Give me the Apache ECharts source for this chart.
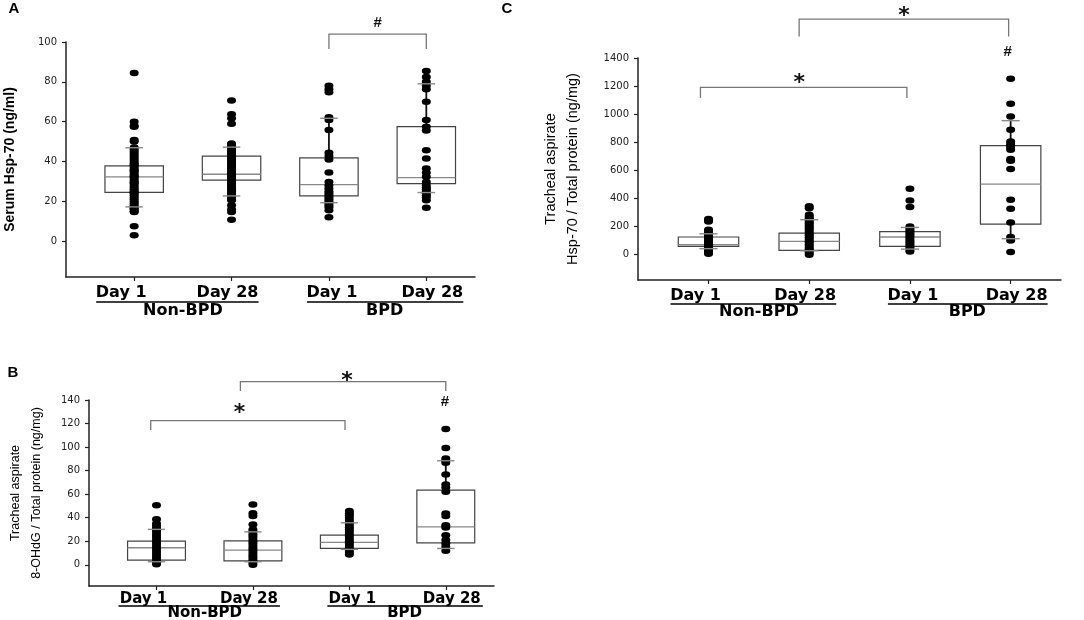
<!DOCTYPE html>
<html>
<head>
<meta charset="utf-8">
<script src="https://cdn.jsdelivr.net/npm/echarts@6/dist/echarts.min.js"></script>
<style>
  html, body { margin: 0; padding: 0; background: #fff; }
  #chart { width: 1084px; height: 620px; }
</style>
</head>
<body>
<div id="chart"></div>
<script>
// categories
const groupX = [1, 2, 3, 4];
const dayLabels = ['Day 1', 'Day 28', 'Day 1', 'Day 28'];
const groupLabels = ['Non-BPD', 'BPD'];

// A - serum Hsp-70 (ng/ml)
const aTicks = [0, 20, 40, 60, 80, 100];
const aNon1 = [84.4, 60, 58, 57.5, 50.8, 50, 47, 46, 45, 44, 43, 42, 41, 40, 39, 38.5, 38, 37, 36, 35.5, 35, 34, 33, 32.5, 32, 31, 30, 29.5, 29, 28, 27, 26, 25, 24.5, 24, 23, 22, 21, 20, 19, 18, 17, 16.5, 16, 15, 14.6, 7.5, 3];
const aNon28 = [70.6, 63.7, 61.7, 59, 49, 48, 47, 46, 45, 44, 43, 42, 41, 40, 39, 38, 37, 36, 35, 34, 33.5, 33, 32, 31, 30, 29, 28, 27, 26, 25, 24, 23, 22, 21, 20.5, 18, 16, 14.6, 10.8];
const aBpd1 = [78, 76.3, 74.8, 62.2, 60.8, 55.8, 44.4, 42.7, 41, 34.5, 29.7, 28, 26.4, 25, 24, 23, 22, 21, 20, 19, 18, 17, 15.5, 12];
const aBpd28 = [85.5, 82.4, 80, 78, 76.3, 70, 60.8, 57.5, 55.5, 45.7, 41.5, 36.5, 34.3, 32.3, 29.7, 28, 27, 26, 25, 24, 23, 22, 20.5, 16.8];
// [lower cap, Q1, median, Q3, upper cap]
const aBox = [[17.2, 24.5, 32.3, 37.8, 46.9], [22.7, 30.6, 33.6, 42.7, 47.2], [19.3, 22.7, 28.4, 41.8, 61.7], [24.4, 28.9, 31.9, 57.5, 79]];
// [x from, x to, top, drop]
const aBrackets = [[3, 4, 104, 96.5]];
const aMarks = [[3.5, 109.5, '#']];

// B - tracheal aspirate 8-OHdG / total protein (ng/mg)
const bTicks = [0, 20, 40, 60, 80, 100, 120, 140];
const bNon1 = [50.7, 38.6, 35, 33, 31, 29.5, 28, 26, 24, 22, 20, 18, 16, 14, 12, 10, 8, 6, 4, 2, 0.5];
const bNon28 = [51.3, 43.7, 41.4, 34.3, 30, 28, 26, 24, 22, 20, 18, 16, 14, 12, 10, 8, 6, 4, 2, 0];
const bBpd1 = [45.7, 43.7, 42, 40, 38, 36, 34, 32, 30, 28, 26, 24, 22, 20, 18, 16, 14, 12, 10, 8.8];
const bBpd28 = [115.3, 99.2, 90.4, 88.4, 86.7, 76.8, 68.3, 65.7, 62.1, 43.6, 41.4, 33.7, 31.7, 25.2, 21, 18.1, 15.3, 11.9];
const bBox = [[2.6, 4, 14.5, 20.2, 30.1], [2.6, 3.4, 12.5, 20.4, 28], [13.1, 13.9, 19, 25.3, 35.7], [13.9, 18.7, 32.3, 63.5, 88.4]];
const bBrackets = [[0.94, 2.955, 122.4, 114.5], [1.87, 4.0, 155.6, 147.7]];
const bMarks = [[1.86, 134, '*'], [2.975, 161.4, '*'], [3.99, 138.6, '#']];

// C - tracheal aspirate Hsp-70 / total protein (ng/mg)
const cTicks = [0, 200, 400, 600, 800, 1000, 1200, 1400];
const cNon1 = [254, 245, 237, 178, 170, 160, 150, 140, 130, 122, 115, 108, 100, 92, 85, 78, 70, 64, 57, 50, 44, 38, 30, 22, 12, 7];
const cNon28 = [344, 330, 285, 272, 260, 248, 236, 224, 212, 200, 188, 175, 162, 150, 138, 125, 112, 100, 88, 75, 62, 50, 38, 25, 12, 0];
const cBpd1 = [470, 386, 339, 201, 190, 178, 165, 152, 140, 128, 115, 100, 88, 75, 62, 50, 36, 23];
const cBpd28 = [1253, 1075, 984, 890, 806, 790, 775, 760, 747, 681, 669, 610, 391, 327, 230, 126, 102, 19];
const cBox = [[43, 59, 71, 126, 149], [28, 31, 95, 154, 249], [40, 59, 126, 164, 194], [114, 218, 503, 776, 954]];
const cBrackets = [[0.92, 2.97, 1191, 1115], [1.9, 3.98, 1677, 1553]];
const cMarks = [[1.9, 1260, '*'], [2.94, 1737, '*'], [3.97, 1445, '#']];

const BOX_W = 0.6;
const CAP_W = 0.18;
const TICK_FONT = 'DejaVu Sans';
const TEXT_FONT = 'Liberation Sans';

const panels = [
  {
    letter: 'A', letterPos: [14, 9],
    grid: { left: 62, top: 42, width: 413, height: 235 },
    yMin: -18, yMax: 100, ticks: aTicks,
    groups: [aNon1, aNon28, aBpd1, aBpd28], box: aBox, brackets: aBrackets, marks: aMarks,
    name: 'Serum Hsp-70 (ng/ml)', nameGap: 47, nameSize: 14, nameWeight: 'bold', nameLine: 18,
    dayFont: 16, labelMargin: 8, underline: 25, groupY: 34
  },
  {
    letter: 'B', letterPos: [13, 373],
    grid: { left: 89, top: 400, width: 405, height: 186 },
    yMin: -18, yMax: 140, ticks: bTicks,
    groups: [bNon1, bNon28, bBpd1, bBpd28], box: bBox, brackets: bBrackets, marks: bMarks,
    name: 'Tracheal aspirate\n8-OHdG / Total protein (ng/mg)', nameGap: 42, nameSize: 12.5, nameWeight: 'normal', nameLine: 21,
    dayFont: 15, labelMargin: 6, underline: 20, groupY: 27.5
  },
  {
    letter: 'C', letterPos: [507, 9],
    grid: { left: 638, top: 58, width: 423, height: 222 },
    yMin: -180, yMax: 1400, ticks: cTicks,
    groups: [cNon1, cNon28, cBpd1, cBpd28], box: cBox, brackets: cBrackets, marks: cMarks,
    name: 'Tracheal aspirate\nHsp-70 / Total protein (ng/mg)', nameGap: 54, nameSize: 14.5, nameWeight: 'normal', nameLine: 22,
    dayFont: 16, labelMargin: 8, underline: 24, groupY: 32
  }
];

// label shifts relative to tick (px), like the original layout
const dayPad = [[0, 26, 0, 0], [0, 8, 0, 0], [0, 0, 0, 6], [0, 0, 0, 12]];

function renderBox(params, api) {
  const x = api.value(0);
  const low = api.coord([x, api.value(1)]);
  const q1 = api.coord([x, api.value(2)]);
  const med = api.coord([x, api.value(3)]);
  const q3 = api.coord([x, api.value(4)]);
  const high = api.coord([x, api.value(5)]);
  const half = api.size([BOX_W, 0])[0] / 2;
  const whisker = { stroke: '#111', lineWidth: 1.8 };
  return {
    type: 'group',
    children: [
      { type: 'line', shape: { x1: low[0], y1: low[1], x2: q1[0], y2: q1[1] }, style: whisker },
      { type: 'line', shape: { x1: q3[0], y1: q3[1], x2: high[0], y2: high[1] }, style: whisker },
      { type: 'rect', shape: { x: q3[0] - half, y: q3[1], width: half * 2, height: q1[1] - q3[1] },
        style: { fill: '#fff', stroke: '#444', lineWidth: 1.2 } },
      { type: 'line', shape: { x1: med[0] - half, y1: med[1], x2: med[0] + half, y2: med[1] },
        style: { stroke: '#888', lineWidth: 1.3 } }
    ]
  };
}

function renderCaps(params, api) {
  const x = api.value(0);
  const low = api.coord([x, api.value(1)]);
  const high = api.coord([x, api.value(5)]);
  const half = api.size([CAP_W, 0])[0] / 2;
  const st = { stroke: '#8a8a8a', lineWidth: 1.4 };
  return {
    type: 'group',
    children: [
      { type: 'line', shape: { x1: low[0] - half, y1: low[1], x2: low[0] + half, y2: low[1] }, style: st },
      { type: 'line', shape: { x1: high[0] - half, y1: high[1], x2: high[0] + half, y2: high[1] }, style: st }
    ]
  };
}

function renderBracket(params, api) {
  const a = api.coord([api.value(0), api.value(2)]);
  const b = api.coord([api.value(1), api.value(2)]);
  const d = api.coord([api.value(0), api.value(3)]);
  return {
    type: 'polyline',
    shape: { points: [[a[0], d[1]], a, b, [b[0], d[1]]] },
    style: { stroke: '#777', lineWidth: 1.3, fill: 'none' }
  };
}

function makeRenderMark(marks) {
  return function (params, api) {
    const p = api.coord([api.value(0), api.value(1)]);
    const txt = marks[params.dataIndex][2];
    const star = txt === '*';
    return {
      type: 'text',
      x: p[0], y: p[1] + (star ? 6 : 0),
      style: {
        text: txt, align: 'center', verticalAlign: 'middle',
        fontFamily: star ? TICK_FONT : TEXT_FONT,
        fontSize: star ? 22 : 15, fontWeight: 'bold', fill: '#111'
      }
    };
  };
}

const grids = [], xAxes = [], yAxes = [], series = [];
panels.forEach((p, i) => {
  grids.push(Object.assign({ containLabel: false }, p.grid));
  const rich = {};
  dayPad.forEach((pad, k) => {
    rich['d' + k] = { padding: pad, fontFamily: TICK_FONT, fontWeight: 'bold', fontSize: p.dayFont, color: '#000' };
  });
  xAxes.push({
    type: 'value', gridIndex: i, min: 0.3, max: 4.5,
    axisLine: { show: true, onZero: false, lineStyle: { color: '#222', width: 1.5 } },
    axisTick: { show: true, length: 4, customValues: groupX, lineStyle: { color: '#222', width: 1.2 } },
    axisLabel: {
      customValues: groupX, margin: p.labelMargin,
      formatter: v => '{d' + (v - 1) + '|' + dayLabels[v - 1] + '}', rich: rich
    },
    splitLine: { show: false }
  });
  yAxes.push({
    type: 'value', gridIndex: i, min: p.yMin, max: p.yMax,
    name: p.name, nameLocation: 'middle', nameGap: p.nameGap, nameRotate: 90,
    nameTextStyle: { fontFamily: TEXT_FONT, fontSize: p.nameSize, fontWeight: p.nameWeight, color: '#000', lineHeight: p.nameLine },
    axisLine: { show: true, onZero: false, lineStyle: { color: '#222', width: 1.5 } },
    axisTick: { show: true, length: 4, customValues: p.ticks, lineStyle: { color: '#222', width: 1.2 } },
    axisLabel: { customValues: p.ticks, margin: 9, fontFamily: TICK_FONT, fontSize: 10, color: '#222',
      formatter: v => String(v) },
    splitLine: { show: false }
  });
  const boxData = p.box.map((s, k) => [groupX[k]].concat(s));
  const pts = p.groups.flatMap((vals, k) => vals.map(v => [groupX[k], v]));
  series.push(
    { type: 'custom', xAxisIndex: i, yAxisIndex: i, renderItem: renderBox, data: boxData, encode: { x: 0, y: [1, 2, 3, 4, 5] }, z: 2 },
    { type: 'scatter', xAxisIndex: i, yAxisIndex: i, data: pts, symbol: 'circle', symbolSize: [9, 6.5],
      itemStyle: { color: '#000', opacity: 1 }, z: 3 },
    { type: 'custom', xAxisIndex: i, yAxisIndex: i, renderItem: renderCaps, data: boxData, encode: { x: 0, y: [1, 5] }, z: 4 },
    { type: 'custom', xAxisIndex: i, yAxisIndex: i, renderItem: renderBracket, data: p.brackets, clip: false, z: 4 },
    { type: 'custom', xAxisIndex: i, yAxisIndex: i, renderItem: makeRenderMark(p.marks), data: p.marks.map(m => [m[0], m[1]]), clip: false, z: 4 }
  );
});

const chart = echarts.init(document.getElementById('chart'), null, { renderer: 'canvas' });
chart.setOption({
  animation: false,
  backgroundColor: '#fff',
  grid: grids, xAxis: xAxes, yAxis: yAxes, series: series
});

// group labels, underlines and panel letters
const graphics = [];
panels.forEach((p, i) => {
  const px = v => chart.convertToPixel({ xAxisIndex: i }, v);
  const base = p.grid.top + p.grid.height;
  const spans = [[px(1) - 38, px(2) + 27, (px(1) + px(2)) / 2], [px(3) - 22, px(4) + 37, (px(3) + px(4)) / 2 + 7]];
  spans.forEach((s, k) => {
    graphics.push({
      type: 'line', shape: { x1: s[0], y1: base + p.underline, x2: s[1], y2: base + p.underline },
      style: { stroke: '#000', lineWidth: 1.6 }
    });
    graphics.push({
      type: 'text', x: s[2], y: base + p.groupY,
      style: { text: groupLabels[k], align: 'center', verticalAlign: 'middle',
        fontFamily: TICK_FONT, fontWeight: 'bold', fontSize: p.dayFont, fill: '#000' }
    });
  });
  graphics.push({
    type: 'text', x: p.letterPos[0], y: p.letterPos[1],
    style: { text: p.letter, align: 'center', verticalAlign: 'middle',
      fontFamily: TEXT_FONT, fontWeight: 'bold', fontSize: 15, fill: '#000' }
  });
});
chart.setOption({ graphic: graphics });

window.addEventListener('resize', () => chart.resize());
</script>
</body>
</html>
